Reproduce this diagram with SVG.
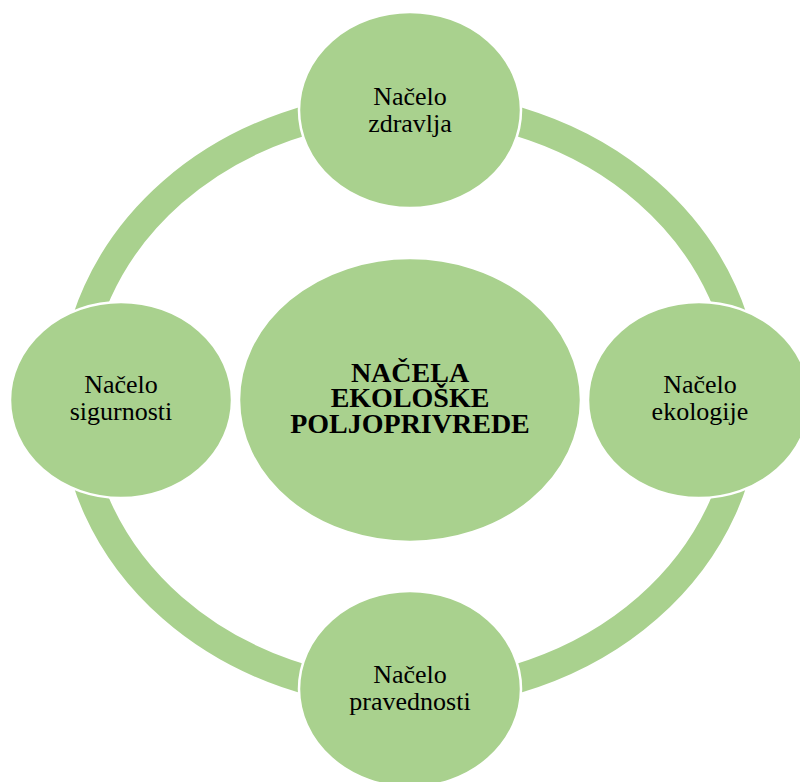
<svg xmlns="http://www.w3.org/2000/svg" width="800" height="782" viewBox="0 0 800 782">
<style>
.node{fill:#A9D18E;stroke:#FFFFFF;stroke-width:2.5}
.ring{fill:none;stroke:#A9D18E;stroke-width:29}
.t{font-family:"Liberation Serif","Times New Roman",serif;font-size:26px;fill:#000;text-anchor:middle}
.b{font-family:"Liberation Serif","Times New Roman",serif;font-size:28px;font-weight:bold;fill:#000;text-anchor:middle}
</style>
<rect width="800" height="782" fill="#FFFFFF"/>
<g id="connectors">
<ellipse class="ring" cx="410" cy="400" rx="336" ry="294"/>
</g>
<g id="center">
<ellipse class="node" cx="410" cy="400" rx="171" ry="142"/>
<text class="b" x="410" y="382">NAČELA</text>
<text class="b" x="410" y="407">EKOLOŠKE</text>
<text class="b" x="410" y="433">POLJOPRIVREDE</text>
</g>
<g id="zdravlja">
<ellipse class="node" cx="410" cy="110" rx="111" ry="98"/>
<text class="t" x="410" y="105">Načelo</text>
<text class="t" x="410" y="132">zdravlja</text>
</g>
<g id="ekologije">
<ellipse class="node" cx="699" cy="400" rx="111" ry="98"/>
<text class="t" x="700" y="393">Načelo</text>
<text class="t" x="700" y="420">ekologije</text>
</g>
<g id="pravednosti">
<ellipse class="node" cx="410" cy="689" rx="111" ry="98"/>
<text class="t" x="410" y="683">Načelo</text>
<text class="t" x="410" y="710">pravednosti</text>
</g>
<g id="sigurnosti">
<ellipse class="node" cx="121" cy="400" rx="111" ry="98"/>
<text class="t" x="121" y="393">Načelo</text>
<text class="t" x="121" y="420">sigurnosti</text>
</g>
</svg>
